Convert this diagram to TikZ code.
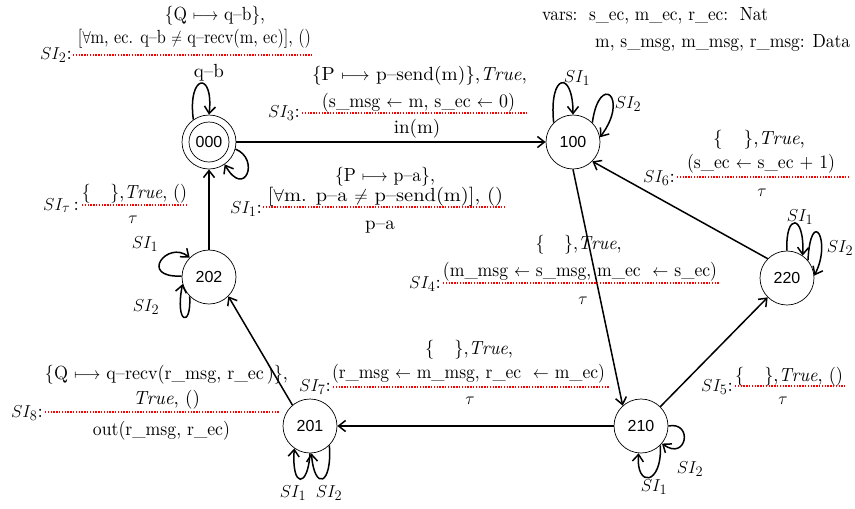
\documentclass[tikz,border=0pt]{standalone}
\usepackage{fontspec}
\usepackage{graphicx}
\setmainfont{lmroman10-regular.otf}[ItalicFont=lmroman10-italic.otf, BoldFont=lmroman10-bold.otf]
\newfontfamily\arialf{Liberation Sans}
\usetikzlibrary{arrows.meta}
\newcommand{\fw}[2]{\resizebox{#1pt}{\height}{#2}}
\begin{document}
\begin{tikzpicture}[x=1pt,y=-1pt,
  state/.style={circle, draw, line width=0.7pt, minimum size=54pt, inner sep=0pt, font=\arialf\fontsize{16}{18}\selectfont},
  txt/.style={font=\fontsize{19}{22}\selectfont, inner sep=0pt, anchor=base},
  sil/.style={font=\fontsize{19}{22}\selectfont, inner sep=0pt},
  sep/.style={red, line width=1.1pt, dash pattern=on 1.4pt off 1.4pt},
  tr/.style={line width=1.5pt, -{Straight Barb[length=7pt,width=11pt]}}]
\useasboundingbox (0,0) rectangle (855,509);

% states
\node[state] (s000) at (209,142) {000};
\draw[line width=0.7pt] (s000.center) circle (20);
\node[state] (s100) at (573,142) {100};
\node[state] (s220) at (787,278) {220};
\node[state] (s210) at (641,426) {210};
\node[state] (s201) at (310,426) {201};
\node[state] (s202) at (209,277) {202};

% transitions
\draw[tr] (s000) -- (s100);
\draw[tr] (s100.south) -- (s210.132);
\draw[tr] (s220.135) -- (s100.-45);
\draw[tr] (s210.45) -- (s220.-135);
\draw[tr] (s210) -- (s201);
\draw[tr] (s201.130) -- (s202.-45);
\draw[tr] (s202) -- (s000);

% self loops
\draw[tr] (s000.125) .. controls +(-6,-46) and +(5,-44) .. (s000.90);
\draw[tr] (s000.-15) .. controls +(25,10) and +(20,35) .. (s000.-55);
\draw[tr] (s100.135) .. controls +(-5,-50) and +(0,-45) .. (s100.90);
\draw[tr] (s100.45) .. controls +(7,-51) and +(30,-40) .. (s100.10);
\draw[tr] (s220.90) .. controls +(-2,-38) and +(2,-42) .. (s220.55);
\draw[tr] (s220.40) .. controls +(3,-55) and +(18,-35) .. (s220.5);
\draw[tr] (s210.-45) .. controls +(2,40) and +(-3,35) .. (s210.-95);
\draw[tr] (s210.0) .. controls +(25,-5) and +(25,18) .. (s210.-40);
\draw[tr] (s201.-90) .. controls +(-2,35) and +(-3,40) .. (s201.-125);
\draw[tr] (s201.-45) .. controls +(3,40) and +(3,38) .. (s201.-87);
\draw[tr] (s202.178) .. controls +(-44,2) and +(-22,-18) .. (s202.135);
\draw[tr] (s202.-135) .. controls +(2,32) and +(-8,40) .. (s202.195);

% loop labels
\node[sil] (k100a) at (577,78) {$SI_1$};
\node[sil] (k100b) at (628,104) {$SI_2$};
\node[sil] (k220a) at (800,217) {$SI_1$};
\node[sil] (k220b) at (840,248) {$SI_2$};
\node[sil] (k210a) at (654,487) {$SI_1$};
\node[sil] (k210b) at (690,469) {$SI_2$};
\node[sil] (k201a) at (293,493) {$SI_1$};
\node[sil] (k201b) at (329,493) {$SI_2$};
\node[sil] (k202a) at (145,244) {$SI_1$};
\node[sil] (k202b) at (146,307) {$SI_2$};

% SI_2 on 000 (q-b)
\node[txt] (g2a) at (215,20) {\fw{100}{\{Q $\longmapsto$ q--b\},}};
\node[txt] (g2b) at (194.5,43) {\fw{233}{[$\forall$m, ec. q--b $\neq$ q--recv(m, ec)], ()}};
\coordinate (g2l) at (73,55); \coordinate (g2r) at (312,55);
\draw[sep] (g2l) -- (g2r);
\node[txt, anchor=base east] (g2s) at (72,59) {$SI_2$:};
\node[txt] (g2c) at (209,77) {q--b};

% SI_3
\node[txt] (g3a) at (419.5,80) {\fw{215}{\{P $\longmapsto$ p--send(m)\},$\mathit{True}$,}};
\node[txt] (g3b) at (418.5,107) {\fw{193}{(s\_msg $\leftarrow$ m, s\_ec $\leftarrow$ 0)}};
\coordinate (g3l) at (302,113); \coordinate (g3r) at (528,113);
\draw[sep] (g3l) -- (g3r);
\node[txt, anchor=base east] (g3s) at (300,117) {$SI_3$:};
\node[txt] (g3c) at (417,133) {in(m)};

% SI_1 (p-a)
\node[txt] (g1a) at (385,181) {\fw{100}{\{P $\longmapsto$ p--a\},}};
\node[txt] (g1b) at (385.5,201) {\fw{235}{[$\forall$m. p--a $\neq$ p--send(m)], ()}};
\coordinate (g1l) at (263,207); \coordinate (g1r) at (505,207);
\draw[sep] (g1l) -- (g1r);
\node[txt, anchor=base east] (g1s) at (262,213) {$SI_1$:};
\node[txt] (g1c) at (380,229) {p--a};

% SI_tau
\node[txt] (gta) at (134.5,198) {\fw{105}{\{\hspace{1.1em}\},$\mathit{True}$, ()}};
\coordinate (gtl) at (82,205); \coordinate (gtr) at (187,205);
\draw[sep] (gtl) -- (gtr);
\node[txt, anchor=base east] (gts) at (79,210) {$SI_\tau$\,:};
\node[txt] (gtc) at (133,223) {$\tau$};

% SI_6
\node[txt] (g6a) at (759,144) {\fw{92}{\{\hspace{1.1em}\},$\mathit{True}$,}};
\node[txt] (g6b) at (761,168) {\fw{148}{(s\_ec $\leftarrow$ s\_ec + 1)}};
\coordinate (g6l) at (677,177); \coordinate (g6r) at (850,177);
\draw[sep] (g6l) -- (g6r);
\node[txt, anchor=base east] (g6s) at (675,182) {$SI_6$:};
\node[txt] (g6c) at (762,196) {$\tau$};

% SI_4
\node[txt] (g4a) at (578.5,249) {\fw{86}{\{\hspace{1.1em}\},$\mathit{True}$,}};
\node[txt] (g4b) at (580,276) {\fw{274}{(m\_msg $\leftarrow$ s\_msg, m\_ec\ \ $\leftarrow$ s\_ec)}};
\coordinate (g4l) at (443,283); \coordinate (g4r) at (720,283);
\draw[sep] (g4l) -- (g4r);
\node[txt, anchor=base east] (g4s) at (441,288) {$SI_4$:};
\node[txt] (g4c) at (583,304) {$\tau$};

% SI_5
\node[txt] (g5a) at (789,381) {\fw{108}{\{\hspace{1.1em}\},$\mathit{True}$, ()}};
\coordinate (g5l) at (735,386); \coordinate (g5r) at (845,386);
\draw[sep] (g5l) -- (g5r);
\node[txt, anchor=base east] (g5s) at (733,391) {$SI_5$:};
\node[txt] (g5c) at (783,404) {$\tau$};

% SI_7
\node[txt] (g7a) at (469,354) {\fw{88}{\{\hspace{1.1em}\},$\mathit{True}$,}};
\node[txt] (g7b) at (468.5,378) {\fw{273}{(r\_msg $\leftarrow$ m\_msg, r\_ec\ \ $\leftarrow$ m\_ec)}};
\coordinate (g7l) at (333,387); \coordinate (g7r) at (610,387);
\draw[sep] (g7l) -- (g7r);
\node[txt, anchor=base east] (g7s) at (331,391) {$SI_7$:};
\node[txt] (g7c) at (470,404) {$\tau$};

% SI_8
\node[txt] (g8a) at (166.5,379) {\fw{243}{\{Q $\longmapsto$ q--recv(r\_msg, r\_ec\,)\},}};
\node[txt] (g8b) at (166.5,404) {\fw{67}{$\mathit{True}$, ()}};
\coordinate (g8l) at (45,412); \coordinate (g8r) at (280,412);
\draw[sep] (g8l) -- (g8r);
\node[txt, anchor=base east] (g8s) at (43,417) {$SI_8$:};
\node[txt] (g8c) at (161.5,435) {\fw{137}{out(r\_msg, r\_ec)}};

% vars
\node[txt, anchor=base west] (v1) at (542,20) {\fw{226}{vars:\ \ s\_ec, m\_ec, r\_ec:\ \ Nat}};
\node[txt, anchor=base west] (v2) at (595,47) {\fw{255}{m, s\_msg, m\_msg, r\_msg: Data}};
\end{tikzpicture}
\end{document}
